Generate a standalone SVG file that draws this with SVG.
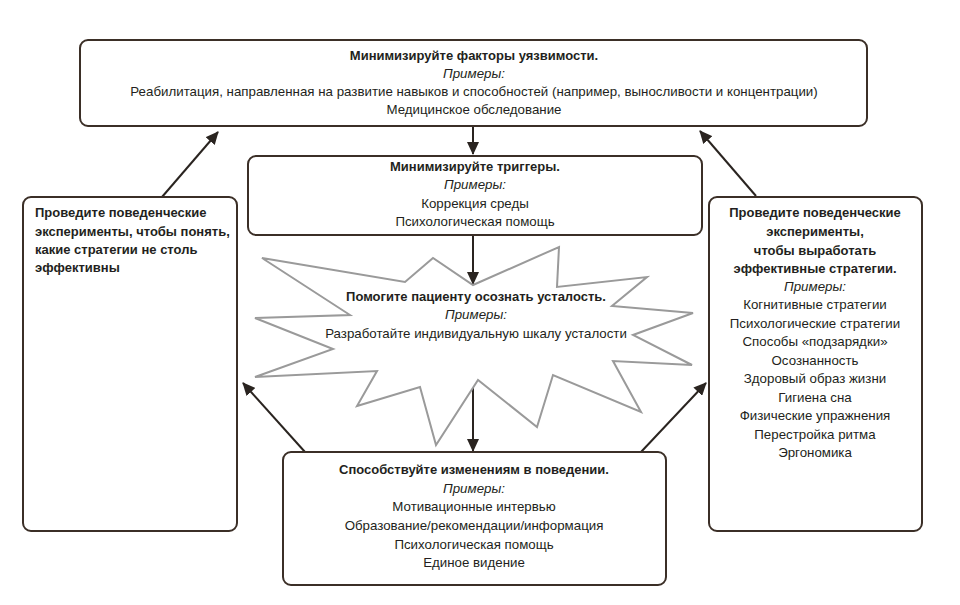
<svg xmlns="http://www.w3.org/2000/svg" width="960" height="605" viewBox="0 0 960 605">
<style>
.box{fill:#fff;stroke:#3b2f27;stroke-width:2}
.star{fill:#fff;stroke:#9a9a9a;stroke-width:2;stroke-linejoin:miter}
text{font-family:"Liberation Sans",Arial,sans-serif;font-size:13.3px;fill:#231f20}
.c{text-anchor:middle}
.b{font-weight:bold;font-size:13px}
.i{font-style:italic}
.conn{stroke:#2a2420;stroke-width:2;fill:none}
</style>
<defs>
<marker id="ah" markerUnits="userSpaceOnUse" markerWidth="14" markerHeight="12" refX="12" refY="6" orient="auto">
<path d="M0,0 L13,6 L0,12 Z" fill="#2a2420"/>
</marker>
</defs>
<rect width="960" height="605" fill="#fff"/>

<g id="connectors">
<line class="conn" x1="473" y1="127" x2="473" y2="154" marker-end="url(#ah)"/>
<line class="conn" x1="473" y1="236" x2="473" y2="284" marker-end="url(#ah)"/>
<line class="conn" x1="473" y1="388" x2="473" y2="451" marker-end="url(#ah)"/>
<line class="conn" x1="162" y1="197" x2="218" y2="132" marker-end="url(#ah)"/>
<line class="conn" x1="756" y1="196" x2="700" y2="131" marker-end="url(#ah)"/>
<line class="conn" x1="305" y1="452" x2="243" y2="383" marker-end="url(#ah)"/>
<line class="conn" x1="641" y1="452" x2="706" y2="383" marker-end="url(#ah)"/>
</g>

<g id="vulnerability">
<rect class="box" x="80" y="40" width="787" height="86" rx="8"/>
<text class="c b" x="474" y="60">Минимизируйте факторы уязвимости.</text>
<text class="c i" x="474" y="78">Примеры:</text>
<text class="c" x="474" y="96">Реабилитация, направленная на развитие навыков и способностей (например, выносливости и концентрации)</text>
<text class="c" x="474" y="114">Медицинское обследование</text>
</g>

<g id="triggers">
<rect class="box" x="248" y="156" width="454" height="79" rx="8"/>
<text class="c b" x="475" y="171">Минимизируйте триггеры.</text>
<text class="c i" x="475" y="189">Примеры:</text>
<text class="c" x="475" y="208">Коррекция среды</text>
<text class="c" x="475" y="226">Психологическая помощь</text>
</g>

<g id="awareness">
<polygon class="star" points="262,258 405,282 433,258 473,285 559,247 557,287 647,277 612,306 693,313 633,335 692,365 613,361 641,412 553,375 537,427 478,380 436,445 420,387 357,406 377,371 255,377 333,349 255,318 350,315"/>
<text class="c b" x="476" y="301">Помогите пациенту осознать усталость.</text>
<text class="c i" x="476" y="319">Примеры:</text>
<text class="c" x="476" y="338">Разработайте индивидуальную шкалу усталости</text>
</g>

<g id="behaviour">
<rect class="box" x="283" y="452" width="383" height="133" rx="8"/>
<text class="c b" x="474" y="474">Способствуйте изменениям в поведении.</text>
<text class="c i" x="474" y="493">Примеры:</text>
<text class="c" x="474" y="511">Мотивационные интервью</text>
<text class="c" x="474" y="530">Образование/рекомендации/информация</text>
<text class="c" x="474" y="549">Психологическая помощь</text>
<text class="c" x="474" y="567">Единое видение</text>
</g>

<g id="experiments-left">
<rect class="box" x="23" y="197" width="214" height="334" rx="8"/>
<text class="b" x="35" y="217">Проведите поведенческие</text>
<text class="b" x="35" y="236">эксперименты, чтобы понять,</text>
<text class="b" x="35" y="254">какие стратегии не столь</text>
<text class="b" x="35" y="272">эффективны</text>
</g>

<g id="experiments-right">
<rect class="box" x="709" y="197" width="213" height="334" rx="8"/>
<text class="c b" x="815" y="217">Проведите поведенческие</text>
<text class="c b" x="815" y="236">эксперименты,</text>
<text class="c b" x="815" y="255">чтобы выработать</text>
<text class="c b" x="815" y="273">эффективные стратегии.</text>
<text class="c i" x="815" y="291">Примеры:</text>
<text class="c" x="815" y="309">Когнитивные стратегии</text>
<text class="c" x="815" y="328">Психологические стратегии</text>
<text class="c" x="815" y="346">Способы «подзарядки»</text>
<text class="c" x="815" y="365">Осознанность</text>
<text class="c" x="815" y="383">Здоровый образ жизни</text>
<text class="c" x="815" y="402">Гигиена сна</text>
<text class="c" x="815" y="420">Физические упражнения</text>
<text class="c" x="815" y="439">Перестройка ритма</text>
<text class="c" x="815" y="457">Эргономика</text>
</g>
</svg>
